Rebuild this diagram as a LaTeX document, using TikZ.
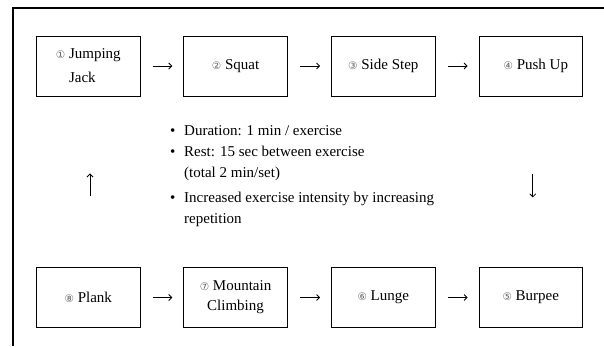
\documentclass[tikz,border=0pt]{standalone}
\usepackage{fontspec}
\setmainfont{Liberation Serif}
\newfontfamily\circfont{DejaVu Sans}
\usetikzlibrary{arrows.meta}

\newcommand{\nr}[1]{{\circfont\fontsize{10.5}{10.5}\selectfont\textcolor{black!60}{#1}}}
\newcommand{\bul}{\makebox[14pt][l]{\textbullet}}
\newcommand{\ind}{\hspace*{14pt}}

\tikzset{
  exbox/.style={draw, line width=0.9pt, minimum width=103.5pt, minimum height=60pt,
    inner sep=0pt, font=\fontsize{15}{20}\selectfont, align=center},
  flow/.style={-{Straight Barb[length=3pt,width=6pt]}, line width=0.8pt},
}

\begin{document}
\begin{tikzpicture}[x=1pt,y=1pt]
    \useasboundingbox (0,0) rectangle (604,346);
    %frame
    \draw[line width=1.3pt] (13,0) -- (13,338) -- (604,338);

    %top row
    \node[exbox, align=left] (jack) at (88.3,280) {\nr{①} Jumping\\[4pt]\hphantom{\nr{①}~}Jack};
    \node[exbox] (squat) at (235.5,280) {\nr{②} Squat};
    \node[exbox] (side) at (383.3,280) {\nr{③} Side Step};
    \node[exbox] (push) at (530.8,280) {\hspace{10pt}\nr{④} Push Up};

    %bottom row
    \node[exbox] (plank) at (88.3,48.5) {\nr{⑧} Plank};
    \node[exbox] (climb) at (235.5,48.5) {\nr{⑦} Mountain\\Climbing};
    \node[exbox] (lunge) at (383.3,48.5) {\nr{⑥} Lunge};
    \node[exbox] (burpee) at (530.8,48.5) {\nr{⑤} Burpee};

    %arrows
    \draw[flow, shorten <=12pt, shorten >=11pt] (jack) -- (squat);
    \draw[flow, shorten <=12pt, shorten >=11pt] (squat) -- (side);
    \draw[flow, shorten <=12pt, shorten >=11pt] (side) -- (push);
    \draw[flow, shorten <=12pt, shorten >=11pt] (plank) -- (climb);
    \draw[flow, shorten <=12pt, shorten >=11pt] (climb) -- (lunge);
    \draw[flow, shorten <=12pt, shorten >=11pt] (lunge) -- (burpee);
    \draw[flow, shorten <=78pt, shorten >=69.7pt] ([xshift=2pt]push.south) -- ([xshift=2pt]burpee.north);
    \draw[flow, shorten <=70.7pt, shorten >=77pt] ([xshift=1.7pt]plank.north) -- ([xshift=1.7pt]jack.south);

    %notes
    \node[anchor=north west, inner sep=0pt, align=left, font=\fontsize{15}{21}\selectfont] (notes) at (170,220.5)
      {\bul Duration: 1 min / exercise\\
       \bul Rest: 15 sec between exercise\\
       \ind (total 2 min/set)\\[4pt]
       \bul Increased exercise intensity by increasing\\
       \ind repetition};
\end{tikzpicture}
\end{document}
